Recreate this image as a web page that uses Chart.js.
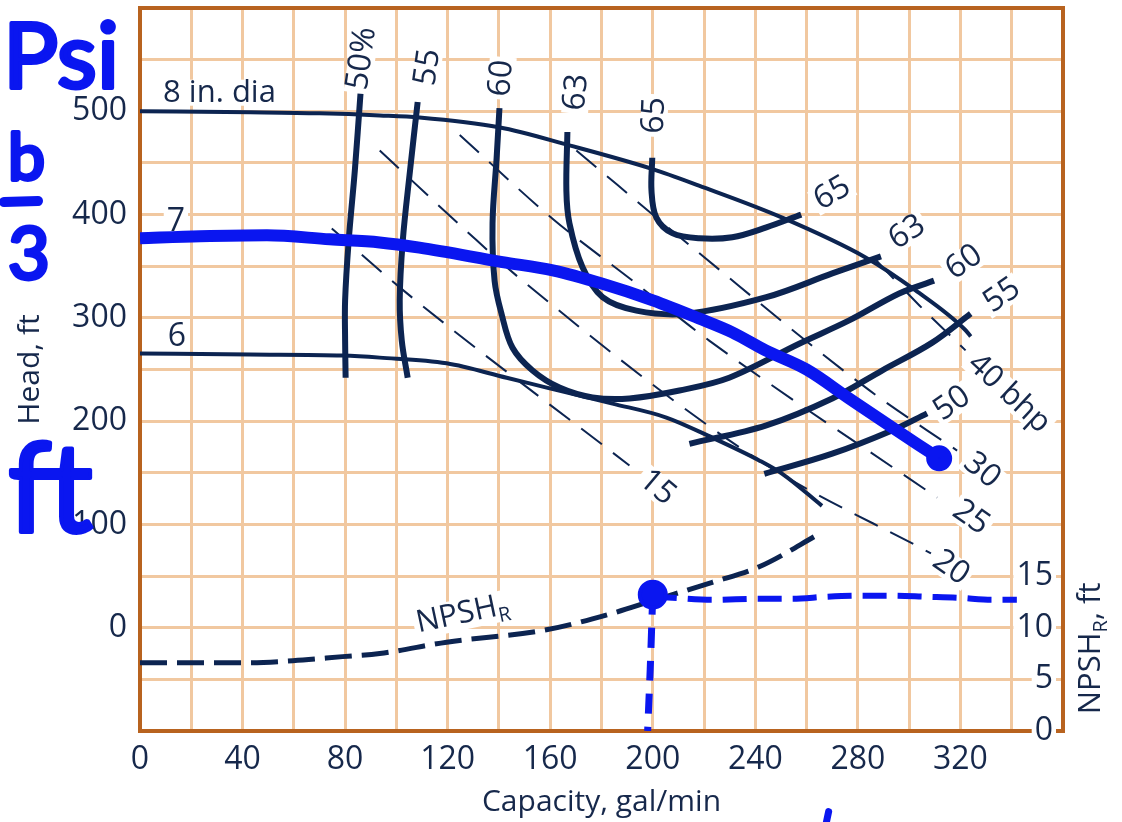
<!DOCTYPE html>
<html>
<head>
<meta charset="utf-8">
<title>Pump performance curves</title>
<script src="https://cdn.jsdelivr.net/npm/chart.js@4.4.1/dist/chart.umd.min.js"></script>
<style>
  html, body { margin: 0; padding: 0; background: #fff; }
  #wrap { width: 1122px; height: 822px; position: relative; }
</style>
</head>
<body>
<div id="wrap"><canvas id="pump"></canvas></div>
<script>
// ===== Centrifugal pump performance chart =====

// --- Ticks ---
const capacityTicks = [0, 40, 80, 120, 160, 200, 240, 280, 320];
const headTicks = [0, 100, 200, 300, 400, 500];
const npshTicks = [0, 5, 10, 15];

// --- Impeller diameter curves (gal/min, ft) ---
const dia8Q = [0, 43, 70, 93.5, 109, 140, 167.5, 200, 218, 250.5, 283, 302.5, 322, 324];
const dia8H = [500, 499, 498, 496, 494, 484.5, 467, 444, 428, 397, 358.5, 326.5, 288, 282];
const dia7Q = [0, 23.4, 49.5, 74, 93.5, 109, 141.4, 161, 180.4, 200, 218, 231, 244, 260, 276.6, 293.3, 304, 311.7];
const dia7H = [377, 379, 380, 376, 373, 368, 354, 346, 333, 317, 299.5, 286, 268.5, 250, 222, 194, 176.5, 164];
const dia6Q = [0, 43, 79, 93.5, 119.6, 143, 158.6, 184.3, 205.3, 223.2, 241.5, 250.5, 266];
const dia6H = [265.5, 264.5, 263.5, 261.5, 256, 242, 232.5, 217, 203.5, 184, 162, 149, 118];

// --- Efficiency contours ---
const eff50aQ = [86, 83.8, 81.4, 80, 80, 80.2];
const eff50aH = [517, 443, 375, 317, 278, 242];
const eff50bQ = [243.5, 270, 293.3, 307];
const eff50bH = [149, 168.5, 191, 207.5];
const eff55aQ = [108.3, 105.2, 102.5, 101.3, 102.1, 104.4];
const eff55aH = [509, 440, 375, 317, 278, 242];
const eff55bQ = [214.3, 244.3, 270, 289.4, 309, 324];
const eff55bH = [178, 196, 222, 249, 276, 304];
const eff60Q = [140.2, 139.1, 137.5, 138.3, 141, 145.3, 153.1, 163.6, 176.5, 190.9, 210.4, 229.8, 257.1, 276.6, 296.1, 309.7];
const eff60H = [503, 455, 391.5, 336, 304, 271, 249, 232.5, 223, 222, 229.7, 242, 275, 297.5, 323.6, 336];
const eff63Q = [166.7, 166.3, 167.5, 172.6, 180.4, 193.6, 213.1, 244.3, 270, 289];
const eff63H = [480, 423, 391.5, 349, 320, 307, 304, 320, 343, 359.5];
const eff65Q = [199.8, 199.5, 201.4, 207.6, 218.1, 231, 244.3, 257.9];
const eff65H = [455, 423, 397, 382, 377, 378, 387.6, 400];

// --- Brake horsepower lines ---
const bhp15Q = [74.8, 101.3, 190.9];
const bhp15H = [386.6, 329.5, 157];
const bhp20Q = [93.5, 127.8, 149.2, 241.5, 308.5];
const bhp20H = [462, 383, 336, 162, 72];
const bhp25Q = [124.7, 160.9, 192.1, 222, 310.9];
const bhp25H = [477, 396, 336, 278, 126];
const bhp30Q = [170.2, 218.2, 284.4, 318.7];
const bhp30H = [462, 362.5, 230, 171.5];
const bhp40Q = [287, 304, 322];
const bhp40H = [356, 312, 268.5];

// --- NPSH required (right axis, ft) ---
const npshQ = [0, 40, 59.6, 79, 93.5, 119.6, 158.5, 184.3, 199.8, 223.2, 241.5, 265.7];
const npshR = [6.6, 6.6, 6.8, 7.2, 7.5, 8.6, 9.8, 11.4, 12.6, 14.4, 15.9, 19.2];

// --- Hand markup (blue) ---
const pickQ = [200];
const pickN = [13.2];
const readQ = [200, 207.6, 223.2, 241.5, 254.4, 267.6, 280.5, 293.3, 306.6, 319.4, 332.3, 342];
const readN = [13.0, 12.9, 12.7, 12.8, 12.8, 13.0, 13.1, 13.1, 13.0, 12.9, 12.7, 12.7];
const dropQ = [200, 199, 198];
const dropN = [13.2, 6, 0];
const tickMarkQ = [268.6, 267.4];
const tickMarkH = [-178, -192];

// --- Look ---
const NAVY = '#0c2451';
const BLUE = '#0a16f0';
const GRID = '#f1c8a0';
const FRAME = '#b8631f';
const TEXT = '#16284b';
const FONT = '"Open Sans", "DejaVu Sans", sans-serif';

const pts = (qs, vs) => qs.map((q, i) => ({ x: q, y: vs[i] }));

function curve(qs, vs, opts = {}) {
  return Object.assign({
    data: pts(qs, vs), showLine: true, borderColor: NAVY, backgroundColor: NAVY,
    borderWidth: 4, pointRadius: 0, tension: 0.35, fill: false, yAxisID: 'y'
  }, opts);
}

// curves that run left to right get monotone smoothing
const smooth = { cubicInterpolationMode: 'monotone' };
const effStyle = { borderWidth: 6 };
const bhpStyle = { borderWidth: 2, borderDash: [26, 14], cubicInterpolationMode: 'monotone' };

// text labels placed in data coordinates (capacity, head)
const curveLabels = [
  { text: '8 in. dia', q: 9, h: 518, rot: 0, align: 'left' },
  { text: '7', q: 14, h: 393, rot: 0 },
  { text: '6', q: 14.4, h: 282, rot: 0 },
  { text: '50%', q: 86.5, h: 551, rot: -82 },
  { text: '55', q: 112.2, h: 542.6, rot: -82 },
  { text: '60', q: 141, h: 532, rot: -85 },
  { text: '63', q: 170.2, h: 518.4, rot: -85 },
  { text: '65', q: 200.6, h: 496, rot: -88 },
  { text: '65', q: 270, h: 420.5, rot: -30 },
  { text: '63', q: 299.2, h: 382.8, rot: -33 },
  { text: '60', q: 321.4, h: 353.7, rot: -35 },
  { text: '55', q: 336.2, h: 321.7, rot: -35 },
  { text: '50', q: 316.7, h: 217.1, rot: -35 },
  { text: '15', q: 201.8, h: 135.7, rot: 40 },
  { text: '20', q: 316.3, h: 58.1, rot: 35 },
  { text: '25', q: 324.1, h: 106.6, rot: 35 },
  { text: '30', q: 328.4, h: 152.1, rot: 40 },
  { text: '40 bhp', q: 338.9, h: 226.7, rot: 43 }
];

function drawLabel(ctx, text, x, y, rot, size, align) {
  ctx.save();
  ctx.translate(x, y);
  ctx.rotate(rot * Math.PI / 180);
  ctx.font = `${size}px ${FONT}`;
  ctx.textBaseline = 'middle';
  ctx.textAlign = align || 'center';
  const w = ctx.measureText(text).width;
  const x0 = align === 'left' ? 0 : -w / 2;
  ctx.fillStyle = '#fff';
  ctx.fillRect(x0 - 3, -size * 0.42, w + 6, size * 0.84);
  ctx.fillStyle = TEXT;
  ctx.fillText(text, 0, 0);
  ctx.restore();
}

// "NPSH" + subscript R + tail, centred on x,y (alphabetic baseline)
function drawSubText(ctx, main, sub, tail, x, y, rot, size, backdrop) {
  ctx.save();
  ctx.translate(x, y);
  ctx.rotate(rot * Math.PI / 180);
  ctx.textBaseline = 'alphabetic';
  ctx.textAlign = 'left';
  const big = `${size}px ${FONT}`, small = `${Math.round(size * 0.66)}px ${FONT}`;
  ctx.font = big; const w1 = ctx.measureText(main).width;
  ctx.font = small; const w2 = ctx.measureText(sub).width;
  ctx.font = big; const w3 = ctx.measureText(tail).width;
  const start = -(w1 + w2 + w3) / 2;
  if (backdrop) {
    ctx.fillStyle = '#fff';
    ctx.fillRect(start - 3, -size * 0.78, w1 + w2 + w3 + 6, size * 1.0);
  }
  ctx.fillStyle = TEXT;
  ctx.font = big; ctx.fillText(main, start, 0);
  ctx.font = small; ctx.fillText(sub, start + w1, size * 0.22);
  ctx.font = big; ctx.fillText(tail, start + w1 + w2, 0);
  ctx.restore();
}

const annotations = {
  id: 'annotations',
  beforeDatasetsDraw(chart) {
    const { ctx, chartArea: a, scales: { x, y } } = chart;
    // top frame
    ctx.save();
    ctx.strokeStyle = FRAME;
    ctx.lineWidth = 4;
    ctx.beginPath();
    ctx.moveTo(a.left - 2, a.top);
    ctx.lineTo(a.right + 2, a.top);
    ctx.stroke();
    ctx.restore();
    curveLabels.forEach(l => {
      drawLabel(ctx, l.text, x.getPixelForValue(l.q), y.getPixelForValue(l.h), l.rot, l.text.length > 3 ? 31 : 32, l.align);
    });
    drawSubText(ctx, 'NPSH', 'R', '', x.getPixelForValue(126.6), y.getPixelForValue(14.5) + 10, -12, 31, true);
  },
  afterDraw(chart) {
    const { ctx, scales: { y2 } } = chart;
    // right axis title
    drawSubText(ctx, 'NPSH', 'R', ', ft', y2.right - 22, y2.getPixelForValue(8), -90, 31, false);
    // blue handwriting on the left
    ctx.save();
    ctx.fillStyle = BLUE;
    ctx.strokeStyle = BLUE;
    ctx.lineJoin = 'round';
    ctx.lineWidth = 4;
    ctx.textBaseline = 'alphabetic';
    ctx.textAlign = 'left';
    const hand = (t, px, py, size) => {
      ctx.font = `${size}px Lato, "DejaVu Sans", sans-serif`;
      ctx.fillText(t, px, py);
      ctx.strokeText(t, px, py);
    };
    hand('Psi', 3, 88, 92);
    hand('b', 8, 180, 66);
    ctx.lineWidth = 10;
    ctx.lineCap = 'round';
    ctx.beginPath();
    ctx.moveTo(4, 202);
    ctx.lineTo(38, 201);
    ctx.stroke();
    ctx.lineWidth = 4;
    hand('3', 8, 279, 72);
    hand('ft', 8, 532, 124);
    ctx.restore();
  }
};

new Chart(document.getElementById('pump'), {
  type: 'scatter',
  data: {
    datasets: [
      curve(dia7Q, dia7H, Object.assign({
        borderColor: BLUE, backgroundColor: BLUE, borderWidth: 12,
        pointRadius: c => (c.dataIndex === dia7Q.length - 1 ? 7 : 0)
      }, smooth)),
      curve(pickQ, pickN, { yAxisID: 'y2', showLine: false, pointRadius: 13, backgroundColor: BLUE, borderColor: BLUE }),
      curve(readQ, readN, { yAxisID: 'y2', borderColor: BLUE, borderWidth: 6, borderDash: [24, 11], cubicInterpolationMode: 'monotone' }),
      curve(dropQ, dropN, { yAxisID: 'y2', borderColor: BLUE, borderWidth: 7, borderDash: [20, 13], tension: 0.2 }),
      curve(tickMarkQ, tickMarkH, { borderColor: BLUE, borderWidth: 7, borderCapStyle: 'round', clip: false }),
      curve(eff50aQ, eff50aH, effStyle),
      curve(eff50bQ, eff50bH, effStyle),
      curve(eff55aQ, eff55aH, effStyle),
      curve(eff55bQ, eff55bH, effStyle),
      curve(eff60Q, eff60H, effStyle),
      curve(eff63Q, eff63H, effStyle),
      curve(eff65Q, eff65H, effStyle),
      curve(dia8Q, dia8H, smooth),
      curve(dia7Q, dia7H, smooth),
      curve(dia6Q, dia6H, smooth),
      curve(bhp15Q, bhp15H, bhpStyle),
      curve(bhp20Q, bhp20H, bhpStyle),
      curve(bhp25Q, bhp25H, bhpStyle),
      curve(bhp30Q, bhp30H, bhpStyle),
      curve(bhp40Q, bhp40H, bhpStyle),
      curve(npshQ, npshR, { yAxisID: 'y2', borderWidth: 5, borderDash: [27, 10], cubicInterpolationMode: 'monotone' })
    ]
  },
  options: {
    responsive: true,
    maintainAspectRatio: false,
    animation: false,
    events: [],
    layout: { autoPadding: false, padding: { top: 8, left: 0, right: 0, bottom: 0 } },
    plugins: { legend: { display: false }, tooltip: { enabled: false } },
    scales: {
      x: {
        type: 'linear', min: 0, max: 360,
        afterFit: s => { s.height = 91; s.paddingLeft = 0; s.paddingRight = 0; },
        grid: { color: GRID, lineWidth: 3, drawTicks: false },
        border: { display: true, color: FRAME, width: 4 },
        ticks: {
          stepSize: 20, autoSkip: false, maxRotation: 0, padding: 10, color: TEXT,
          font: { family: FONT, size: 32 },
          callback: v => (capacityTicks.includes(v) ? String(v) : '')
        },
        title: {
          display: true, text: 'Capacity, gal/min', color: TEXT,
          font: { family: FONT, size: 30 }, padding: { top: 0, bottom: 2 }
        }
      },
      y: {
        type: 'linear', min: -100, max: 600,
        afterFit: s => { s.width = 140; s.paddingTop = 0; s.paddingBottom = 0; },
        grid: { color: GRID, lineWidth: 3, drawTicks: false },
        border: { display: true, color: FRAME, width: 4 },
        ticks: {
          stepSize: 50, autoSkip: false, padding: 13, color: TEXT,
          font: { family: FONT, size: 32 },
          callback: v => (headTicks.includes(v) ? String(v) : '')
        },
        title: {
          display: true, text: 'Head, ft', color: TEXT,
          font: { family: FONT, size: 30 }, padding: { top: 12, bottom: 0 }
        }
      },
      y2: {
        type: 'linear', position: 'right', min: 0, max: 70,
        afterFit: s => { s.width = 59; s.paddingTop = 0; s.paddingBottom = 0; },
        afterBuildTicks: s => { s.ticks = npshTicks.map(v => ({ value: v })); },
        grid: { display: false, drawTicks: false },
        border: { display: true, color: FRAME, width: 4 },
        ticks: {
          mirror: true, padding: -10, color: TEXT,
          font: { family: FONT, size: 32 },
          showLabelBackdrop: true, backdropColor: '#fff', backdropPadding: { x: 3, y: 0 }
        }
      }
    }
  },
  plugins: [annotations]
});
</script>
</body>
</html>
